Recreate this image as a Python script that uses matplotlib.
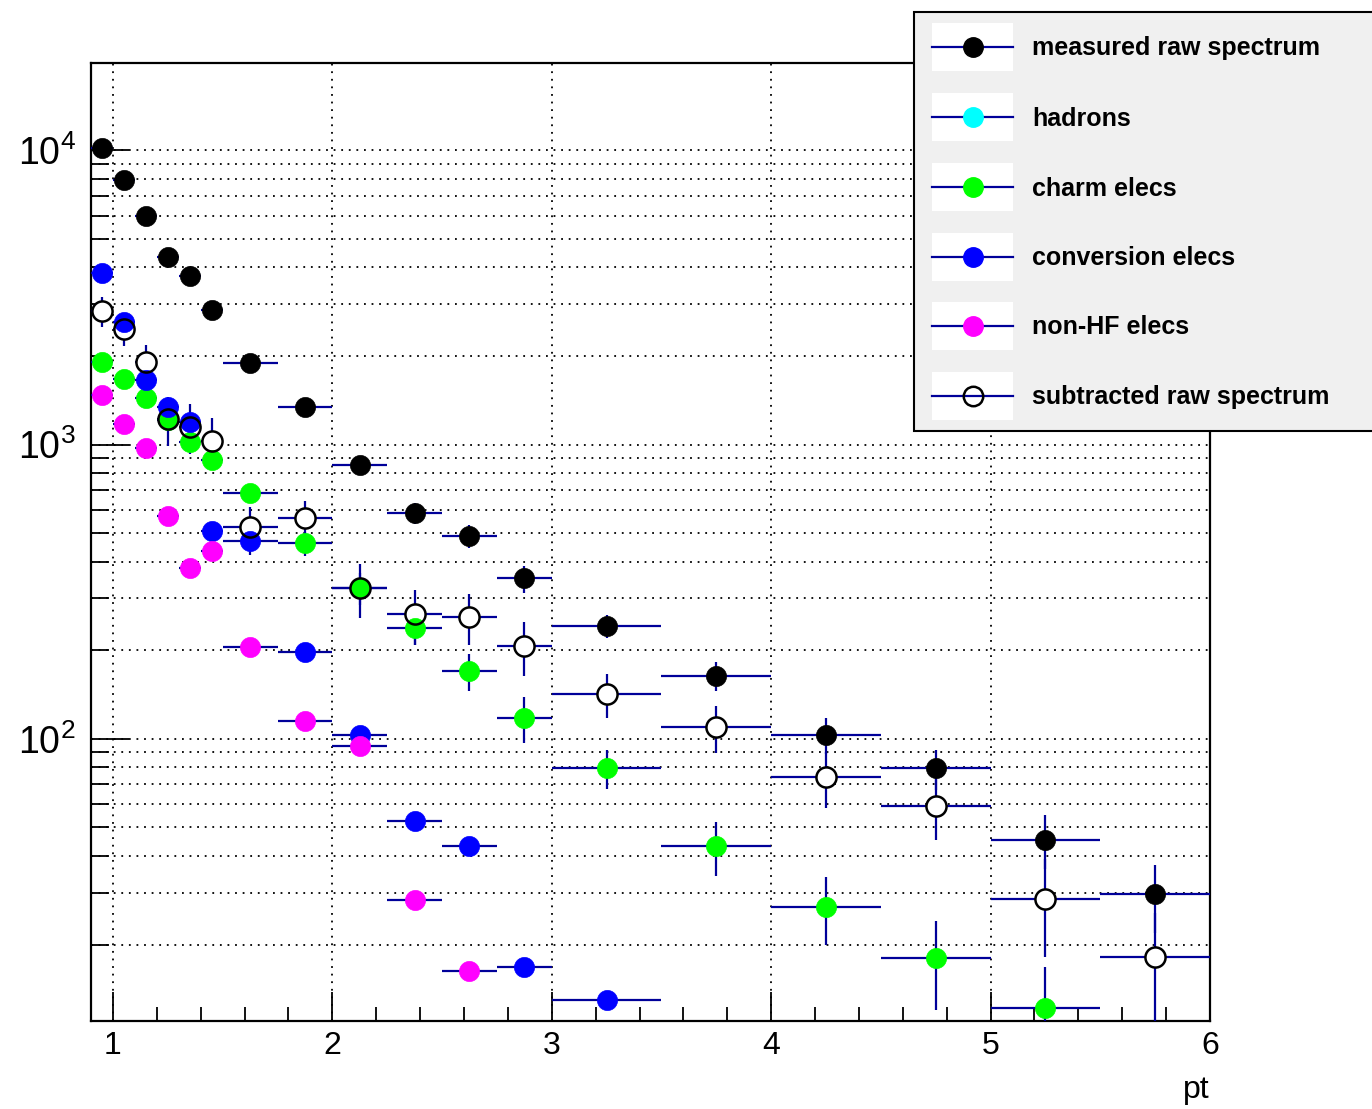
import numpy as np
import matplotlib
matplotlib.use('Agg')
import matplotlib.pyplot as plt
from matplotlib.patches import Rectangle
from matplotlib.lines import Line2D
from matplotlib.ticker import LogLocator, MultipleLocator, NullFormatter

plt.rcParams['font.family'] = ['Liberation Sans', 'DejaVu Sans']
plt.rcParams['mathtext.fontset'] = 'custom'
plt.rcParams['mathtext.rm'] = 'Liberation Sans'
plt.rcParams['mathtext.it'] = 'Liberation Sans:italic'

# pt bins
pt_edges = [0.9, 1.0, 1.1, 1.2, 1.3, 1.4, 1.5, 1.75, 2.0, 2.25, 2.5, 2.75,
            3.0, 3.5, 4.0, 4.5, 5.0, 5.5, 6.0]

# values (0 = no point drawn)
measured = [10150, 7920, 5990, 4345, 3746, 2864, 1888, 1338, 852, 587, 490, 351,
            242, 164, 103, 79.4, 45.5, 29.6]
measured_err = [319, 281, 245, 208, 194, 169, 87, 73, 58, 48, 44, 37,
                22, 18, 14.4, 12.6, 9.5, 7.7]

hadrons = [0, 0, 0, 0, 0, 0, 0, 0, 0, 0, 0, 0, 0, 0, 0, 0, 0, 0]
hadrons_err = [0, 0, 0, 0, 0, 0, 0, 0, 0, 0, 0, 0, 0, 0, 0, 0, 0, 0]

charm = [1911, 1665, 1442, 1211, 1022, 886, 686, 462, 325, 238, 170, 118,
         79.4, 43.3, 26.9, 18.0, 12.2, 0]
charm_err = [45, 42, 40, 38, 36, 34, 50, 44, 40, 29, 25, 21,
             12, 9, 7, 6, 4.6, 0]

conversion = [3835, 2614, 1657, 1338, 1195, 509, 470, 197, 103, 52.7, 43.2, 16.8,
              13.0, 0, 0, 0, 0, 0]
conversion_err = [60, 50, 45, 40, 38, 25, 50, 8, 4, 2, 2, 0.8,
                  0.6, 0, 0, 0, 0, 0]

nonhf = [1473, 1171, 975, 571, 381, 436, 206, 115, 94.7, 28.3, 16.3, 0,
         0, 0, 0, 0, 0, 0]
nonhf_err = [45, 40, 35, 28, 22, 24, 8, 4, 3, 1.5, 0.8, 0,
             0, 0, 0, 0, 0, 0]

subtracted = [2849, 2462, 1903, 1221, 1149, 1028, 525, 561, 325, 265, 259, 207,
              141.6, 109.4, 74.2, 59.3, 28.6, 18.1]
subtracted_err = [330, 300, 270, 235, 220, 200, 90, 83, 68, 56, 51, 43,
                  24, 20, 16, 14, 10.5, 7.5]

labels = ['measured raw spectrum', 'hadrons', 'charm elecs', 'conversion elecs',
          'non-HF elecs', 'subtracted raw spectrum']
colors = ['#000000', '#00ffff', '#00ff00', '#0000ff', '#ff00ff', 'none']

navy = '#000099'

edges = np.array(pt_edges)
centers = (edges[:-1] + edges[1:]) / 2
half = (edges[1:] - edges[:-1]) / 2

fig = plt.figure(figsize=(13.72, 11.09), dpi=100)
ax = fig.add_axes([91 / 1372, 1 - 1021 / 1109, (1210 - 91) / 1372, (1021 - 63) / 1109])
ax.set_yscale('log')
ax.set_xlim(0.9, 6.0)
ax.set_ylim(11, 19800)

series = [(measured, measured_err), (hadrons, hadrons_err), (charm, charm_err),
          (conversion, conversion_err), (nonhf, nonhf_err),
          (subtracted, subtracted_err)]

for i, (vals, errs) in enumerate(series):
    y = np.array(vals, dtype=float)
    e = np.array(errs, dtype=float)
    m = y > 0
    if not m.any():
        continue
    ax.errorbar(centers[m], y[m], xerr=half[m], yerr=e[m], fmt='none',
                ecolor=navy, elinewidth=1.6, capsize=0, zorder=3)
    if colors[i] == 'none':
        # open circles: white behind, ring on top
        ax.plot(centers[m], y[m], 'o', ms=14.5, mfc='white', mec='none', zorder=4)
        ax.plot(centers[m], y[m], 'o', ms=14.5, mfc='none', mec='black', mew=1.8, zorder=6)
    else:
        ax.plot(centers[m], y[m], 'o', ms=14.5, mfc=colors[i], mec=colors[i],
                mew=0.5, zorder=5)

# axes, ticks and grid
ax.xaxis.set_major_locator(MultipleLocator(1))
ax.xaxis.set_minor_locator(MultipleLocator(0.2))
ax.yaxis.set_major_locator(LogLocator(base=10, numticks=10))
ax.yaxis.set_minor_locator(LogLocator(base=10, subs=np.arange(2, 10), numticks=20))
ax.yaxis.set_minor_formatter(NullFormatter())

ax.tick_params(axis='both', which='both', direction='in', width=1.3, colors='black')
ax.tick_params(axis='x', which='major', length=21, labelsize=23, pad=7)
ax.tick_params(axis='x', which='minor', length=10)
ax.tick_params(axis='y', which='major', length=27, labelsize=27, pad=11)
ax.tick_params(axis='y', which='minor', length=13)

grid_style = dict(color='black', linestyle=(0, (1, 3.2)), linewidth=1.3)
ax.grid(True, axis='x', which='major', **grid_style)
ax.grid(True, axis='y', which='both', **grid_style)
ax.set_axisbelow(True)

for s in ax.spines.values():
    s.set_linewidth(1.6)

ax.text(1.0, -0.072, 'pt', transform=ax.transAxes, ha='right', va='center', fontsize=23)


# legend, drawn by hand in pixel layout
def fx(px):
    return px / 1372


def fy(py):
    return 1 - py / 1109


fig.add_artist(Rectangle((fx(914), fy(431)), fx(1400) - fx(914), fy(12) - fy(431),
                         transform=fig.transFigure, facecolor='#f0f0f0',
                         edgecolor='black', linewidth=1.5, zorder=10))
entry_y = [47, 117, 187, 257, 326, 396]
for lab, col, yc in zip(labels, colors, entry_y):
    fig.add_artist(Rectangle((fx(932), fy(yc + 24)), fx(1013) - fx(932), fy(yc - 24) - fy(yc + 24),
                             transform=fig.transFigure, facecolor='white',
                             edgecolor='none', zorder=11))
    fig.add_artist(Line2D([fx(932), fx(1013)], [fy(yc), fy(yc)], transform=fig.transFigure,
                          color=navy, linewidth=1.6, zorder=12))
    if col == 'none':
        fig.add_artist(Line2D([fx(973)], [fy(yc)], transform=fig.transFigure, marker='o',
                              ms=14, mfc='none', mec='black', mew=1.8, zorder=13))
    else:
        fig.add_artist(Line2D([fx(973)], [fy(yc)], transform=fig.transFigure, marker='o',
                              ms=14, mfc=col, mec=col, zorder=13))
    fig.text(fx(1032), fy(yc + 1.5), lab, fontsize=18, fontweight='bold', ha='left',
             va='center', zorder=14)

fig.savefig('out.png', dpi=100)
